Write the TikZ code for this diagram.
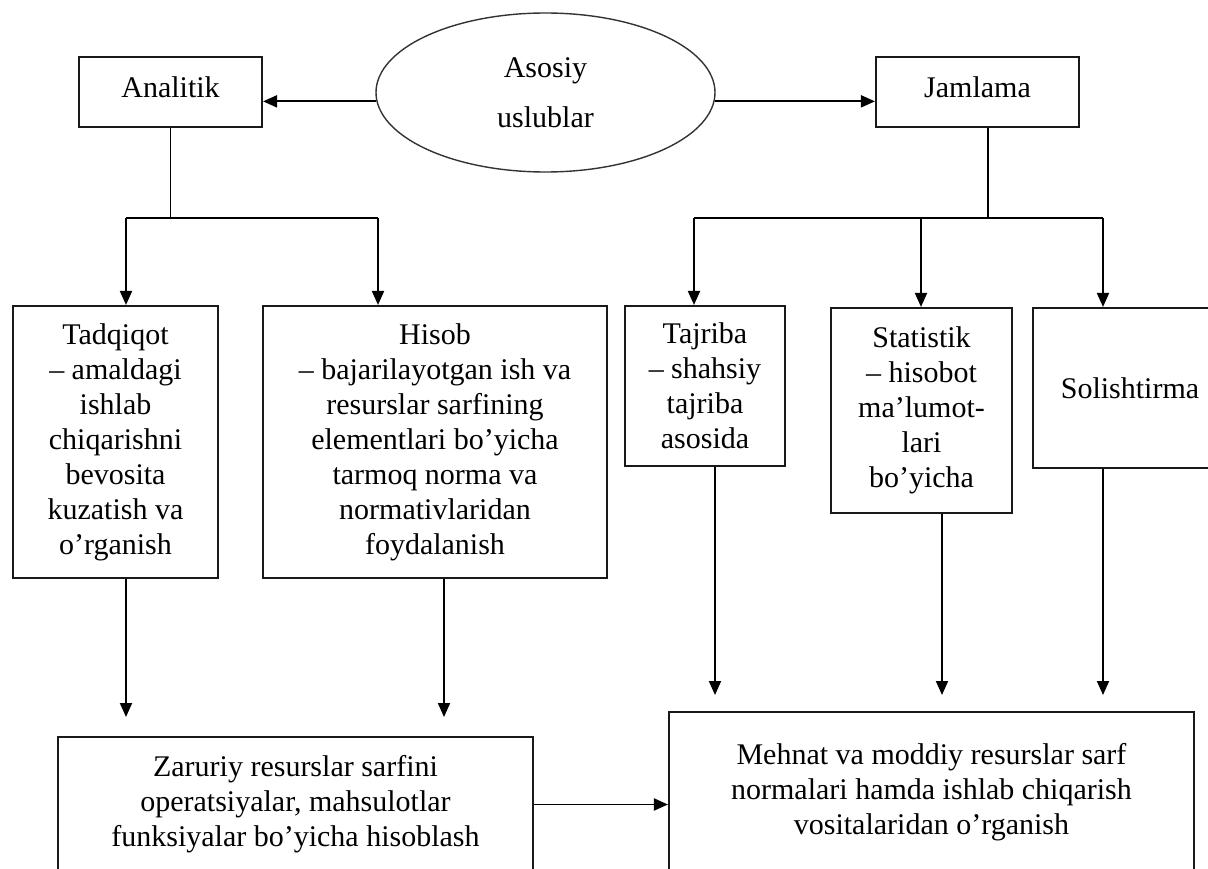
\documentclass[tikz,border=0pt]{standalone}
\usepackage{fontspec}
\setmainfont{Liberation Serif}
\usetikzlibrary{shapes.geometric,arrows.meta}

\tikzset{
  txt/.style={font=\fontsize{30}{35}\selectfont, align=center, inner sep=0pt},
  box/.style={txt, draw=black!90, line width=2.1pt, rectangle},
  conn/.style={draw=black, line width=1.9pt},
  arr/.style={conn, -{Triangle[length=14pt,width=12pt]}},
}

\begin{document}
\begin{tikzpicture}[x=1pt,y=-1pt]
  \useasboundingbox (0,0) rectangle (1208,869);
  \fill[white] (0,0) rectangle (1208,869);
  \clip (0,0) rectangle (1208,869);

  % top level
  \node[txt, draw=black!80, line width=1.4pt, ellipse, minimum width=339pt, minimum height=159pt,
        font=\fontsize{30}{50}\selectfont] (ell) at (545.5,92.5) {Asosiy\\uslublar};
  \node[box, minimum width=183pt, minimum height=70pt, text depth=10pt] (ana) at (170.5,92) {Analitik};
  \node[box, minimum width=203pt, minimum height=70pt, text depth=10pt] (jam) at (977.5,92) {Jamlama};

  % second level
  \node[box, minimum width=205pt, minimum height=272pt] (tad) at (115.5,442)
    {Tadqiqot\\– amaldagi\\ishlab\\chiqarishni\\bevosita\\kuzatish va\\o’rganish};
  \node[box, minimum width=344pt, minimum height=272pt] (his) at (435,442)
    {Hisob\\– bajarilayotgan ish va\\resurslar sarfining\\elementlari bo’yicha\\tarmoq norma va\\normativlaridan\\foydalanish};
  \node[box, minimum width=160pt, minimum height=160pt] (taj) at (705,386)
    {Tajriba\\– shahsiy\\tajriba\\asosida};
  \node[box, minimum width=181pt, minimum height=205pt] (sta) at (921.5,410.5)
    {Statistik\\– hisobot\\ma’lumot-\\lari\\bo’yicha};
  \node[box, minimum width=194pt, minimum height=160pt] (sol) at (1130,388) {Solishtirma};

  % results
  \node[box, minimum width=475pt, minimum height=135pt] (zar) at (295.5,804.5)
    {Zaruriy resurslar sarfini\\operatsiyalar, mahsulotlar\\funksiyalar bo’yicha hisoblash};
  \node[box, minimum width=525pt, minimum height=160pt] (meh) at (931.5,792)
    {Mehnat va moddiy resurslar sarf\\normalari hamda ishlab chiqarish\\vositalaridan o’rganish};

  % ellipse to the two groups
  \draw[arr] (ell.183.2) -- (ell.183.2 -| ana.east);
  \draw[arr] (ell.-3.2) -- (ell.-3.2 -| jam.west);

  % analytic branch
  \coordinate (la) at (126,218);
  \coordinate (lb) at (378,218);
  \draw[conn] (ana.south) -- (ana.south |- la);
  \draw[conn] (la) -- (lb);
  \draw[arr] (la) -- (la |- tad.north);
  \draw[arr] (lb) -- (lb |- his.north);

  % summary branch
  \coordinate (ra) at (694,218);
  \coordinate (rb) at (921,218);
  \coordinate (rc) at (1103,218);
  \coordinate (rj) at (988,218);
  \draw[conn] (rj |- jam.south) -- (rj);
  \draw[conn] (ra) -- (rc);
  \draw[arr] (ra) -- (ra |- taj.north);
  \draw[arr] (rb) -- (rb |- sta.north);
  \draw[arr] (rc) -- (rc |- sol.north);

  % down to the results
  \coordinate (ta) at (126,717);
  \coordinate (ha) at (444,717);
  \coordinate (ja) at (715,695);
  \coordinate (sa) at (942,695);
  \coordinate (oa) at (1103,695);
  \draw[arr] (ta |- tad.south) -- (ta);
  \draw[arr] (ha |- his.south) -- (ha);
  \draw[arr] (ja |- taj.south) -- (ja);
  \draw[arr] (sa |- sta.south) -- (sa);
  \draw[arr] (oa |- sol.south) -- (oa);

  \draw[arr] (zar.east) -- (zar.east -| meh.west);
\end{tikzpicture}
\end{document}
